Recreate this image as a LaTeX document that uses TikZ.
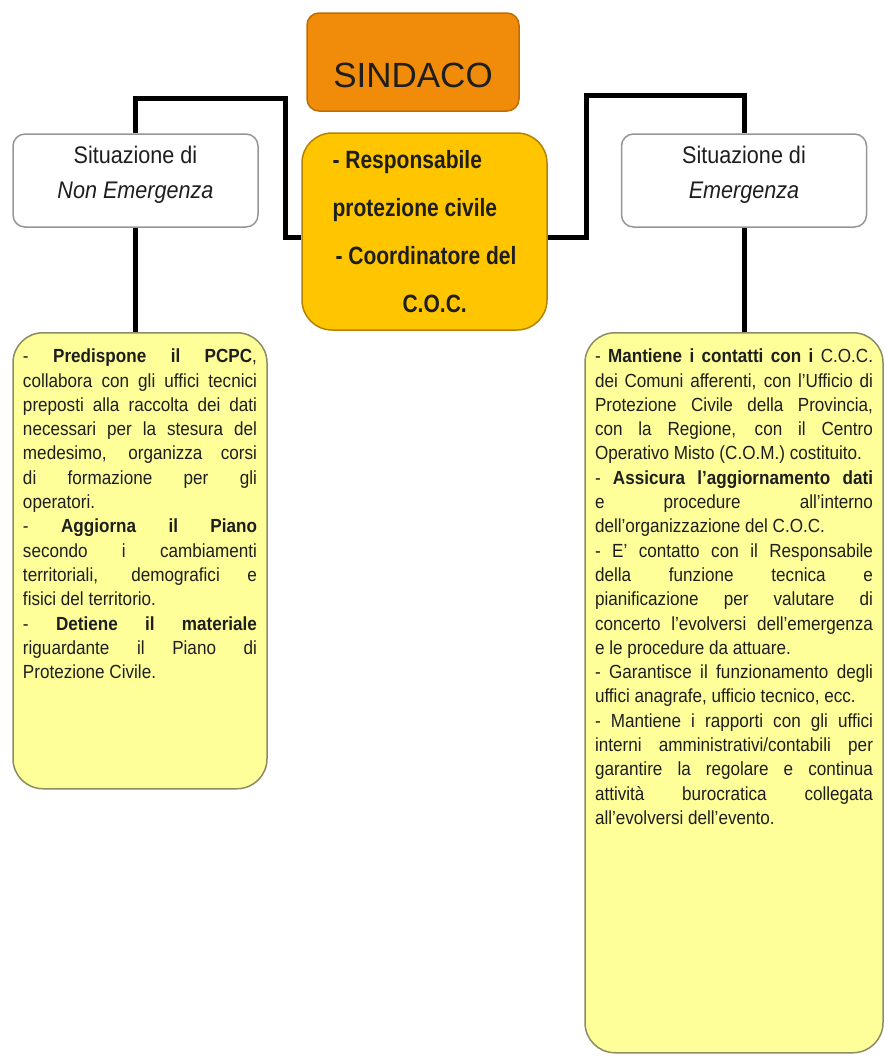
\documentclass[tikz,border=0pt]{standalone}
\usepackage{fontspec}
\setmainfont{Liberation Sans}[FakeStretch=0.9]
\newfontfamily\titlefont{Liberation Sans}
\newfontfamily\cocfont{Liberation Sans}[FakeStretch=0.84]
\usetikzlibrary{positioning}
\definecolor{sindacofill}{RGB}{240,140,10}
\definecolor{sindacoborder}{RGB}{190,110,0}
\definecolor{cocfill}{RGB}{255,198,0}
\definecolor{cocborder}{RGB}{180,130,0}
\definecolor{compitifill}{RGB}{255,255,153}
\definecolor{compitiborder}{RGB}{140,140,100}
\definecolor{situazioneborder}{RGB}{150,150,150}
\definecolor{testo}{RGB}{30,30,30}
\tikzset{
        box/.style={rounded corners=12pt, line width=1.5pt, text=testo},
        % Sindaco
        box_sindaco/.style={box, draw=sindacoborder, fill=sindacofill, minimum width=212pt, minimum height=98pt, text height=52pt, font=\titlefont\fontsize{35}{42}\selectfont},
        % Coordinatore del C.O.C.
        box_coc/.style={box, align=left, rounded corners=30pt, draw=cocborder, fill=cocfill, minimum width=245pt, minimum height=197pt, font=\cocfont\bfseries\fontsize{25}{48}\selectfont},
        % Situazioni
        box_situazione/.style={box, draw=situazioneborder, fill=white, minimum width=245pt, minimum height=93pt},
        situazione_text/.style={align=center, yshift=6pt, text=testo, font=\fontsize{24}{35}\selectfont},
        % Compiti
        box_compiti/.style={box, rounded corners=30pt, draw=compitiborder, fill=compitifill, anchor=north, inner xsep=10pt, inner ysep=13pt, font=\fontsize{19}{24.3}\selectfont},
        % Collegamenti
        conn/.style={line width=5pt, black}
}

\begin{document}
\begin{tikzpicture}[x=1pt, y=-1pt]
    \useasboundingbox (0,0) rectangle (885,1063);

    \node[box_sindaco] (sindaco) at (413,62) {SINDACO};
    \node[box_coc] (coc) at (424.5,231.5) {- Responsabile\\protezione civile\\\hspace*{3pt}- Coordinatore del\\\hspace*{70pt}C.O.C.};

    \node[box_situazione, label={[situazione_text]center:{Situazione di\\\textit{Non Emergenza}}}] (sit_non_emerg) at (135.5,180.5) {};
    \node[box_situazione, label={[situazione_text]center:{Situazione di\\\textit{Emergenza}}}] (sit_emerg) at (744,180.5) {};

    \node[box_compiti] (compiti_non_emerg) at (140,332) {%
        \begin{minipage}[t][430pt][t]{234pt}
        \tolerance=10000 \hbadness=10000
        \strut- \textbf{Predispone il PCPC},\linebreak
        collabora con gli uffici tecnici\linebreak
        preposti alla raccolta dei dati\linebreak
        necessari per la stesura del\linebreak
        medesimo, organizza corsi\linebreak
        di formazione per gli\linebreak
        operatori.\par
        - \textbf{Aggiorna il Piano}\linebreak
        secondo i cambiamenti\linebreak
        territoriali, demografici e\linebreak
        fisici del territorio.\par
        - \textbf{Detiene il materiale}\linebreak
        riguardante il Piano di\linebreak
        Protezione Civile.\par
        \end{minipage}};

    \node[box_compiti] (compiti_emerg) at (734,332) {%
        \begin{minipage}[t][694pt][t]{278pt}
        \tolerance=10000 \hbadness=10000
        \strut- \textbf{Mantiene i contatti con i} C.O.C.\linebreak
        dei Comuni afferenti, con l'Ufficio di\linebreak
        Protezione Civile della Provincia,\linebreak
        con la Regione, con il Centro\linebreak
        Operativo Misto (C.O.M.) costituito.\par
        - \textbf{Assicura l'aggiornamento dati}\linebreak
        e procedure all'interno\linebreak
        dell'organizzazione del C.O.C.\par
        - E' contatto con il Responsabile\linebreak
        della funzione tecnica e\linebreak
        pianificazione per valutare di\linebreak
        concerto l'evolversi dell'emergenza\linebreak
        e le procedure da attuare.\par
        - Garantisce il funzionamento degli\linebreak
        uffici anagrafe, ufficio tecnico, ecc.\par
        - Mantiene i rapporti con gli uffici\linebreak
        interni amministrativi/contabili per\linebreak
        garantire la regolare e continua\linebreak
        attività burocratica collegata\linebreak
        all'evolversi dell'evento.\par
        \end{minipage}};

    % collegamenti
    \coordinate (knee_sx) at (285,98);
    \coordinate (knee_dx) at (586,95);
    \draw[conn] ([yshift=-6pt]coc.west) -| (knee_sx) -| (sit_non_emerg.north);
    \draw[conn] ([yshift=-6pt]coc.east) -| (knee_dx) -| (sit_emerg.north);
    \draw[conn] (sit_non_emerg.south) -- (sit_non_emerg.south |- compiti_non_emerg.north);
    \draw[conn] (sit_emerg.south) -- (sit_emerg.south |- compiti_emerg.north);
\end{tikzpicture}
\end{document}
